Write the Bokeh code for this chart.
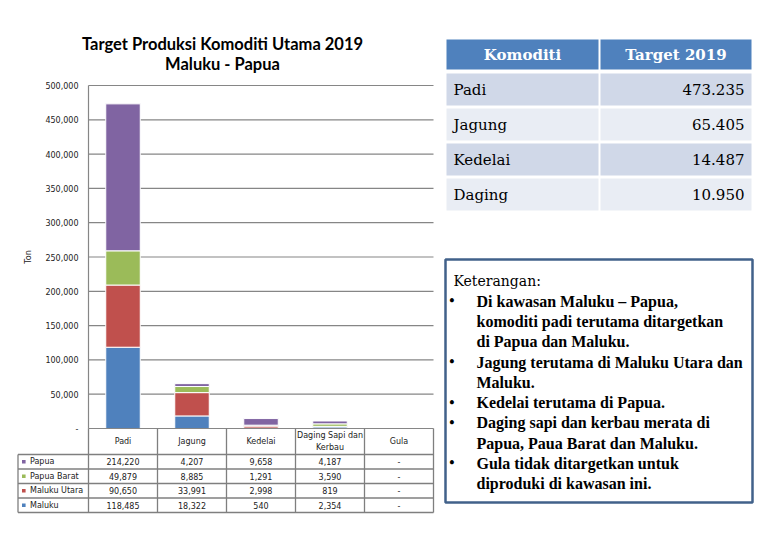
import numpy as np
from bokeh.plotting import figure
from bokeh.models import Range1d, ColumnDataSource
from bokeh.embed import file_html
from bokeh.resources import INLINE
from bokeh.core.properties import value

# ---------------- data ----------------
categories = ["Padi", "Jagung", "Kedelai", "Daging Sapi dan\nKerbau", "Gula"]
regions = ["Maluku", "Maluku Utara", "Papua Barat", "Papua"]   # stacking order bottom -> top
maluku = [118485, 18322, 540, 2354, 0]
maluku_utara = [90650, 33991, 2998, 819, 0]
papua_barat = [49879, 8885, 1291, 3590, 0]
papua = [214220, 4207, 9658, 4187, 0]
region_colors = ["#4F81BD", "#C0504D", "#9BBB59", "#8064A2"]
y_ticks = [0, 50000, 100000, 150000, 200000, 250000, 300000, 350000, 400000, 450000, 500000]
y_label = "Ton"

title_lines = ["Target Produksi Komoditi Utama 2019", "Maluku - Papua"]

komoditi = ["Padi", "Jagung", "Kedelai", "Daging"]
target_2019 = [473235, 65405, 14487, 10950]
table_header = ["Komoditi", "Target 2019"]

keterangan_title = "Keterangan:"
keterangan_items = [
    ["Di kawasan Maluku \u2013 Papua,", "komoditi padi terutama ditargetkan", "di Papua dan Maluku."],
    ["Jagung terutama di Maluku Utara dan", "Maluku."],
    ["Kedelai terutama di Papua."],
    ["Daging sapi dan kerbau merata di", "Papua, Paua Barat dan Maluku."],
    ["Gula tidak ditargetkan untuk", "diproduki di kawasan ini."],
]

series = dict(zip(regions, [maluku, maluku_utara, papua_barat, papua]))

# ---------------- layout constants (pixels) ----------------
W, H = 764, 524
CAT_L, CAT_R = 88, 433        # plot area left / right
Y0_PX, YMAX_PX = 428, 85      # pixel rows of 0 and of the top tick
n = len(categories)
ppu = (CAT_R - CAT_L) / n
y_max = y_ticks[-1]
kpy = y_max / (Y0_PX - YMAX_PX)

def ux(px):   # pixel column -> category units
    return (px - CAT_L) / ppu

SANS = value("DejaVu Sans")
SERIF = value("DejaVu Serif")
GRID = "#868686"
TXT = "#222222"

p = figure(width=W, height=H,
           x_range=Range1d(ux(0), ux(W)),
           y_range=Range1d(-(H - Y0_PX) * kpy, y_max + YMAX_PX * kpy),
           output_backend="svg", toolbar_location=None,
           min_border_left=0, min_border_right=0, min_border_top=0, min_border_bottom=0)
p.extra_x_ranges = {"px": Range1d(0, W)}
p.extra_y_ranges = {"px": Range1d(H, 0)}
p.axis.visible = False
p.grid.visible = False
p.outline_line_color = None

# ---------------- title ----------------
p.text(x=[222, 222], y=[43.5, 63.5], text=title_lines, x_range_name="px", y_range_name="px",
       text_font=value("Lato"), text_font_style="bold", text_font_size="16.5px",
       text_align="center", text_baseline="alphabetic", text_color="#000000")

# ---------------- chart ----------------
xpos = np.arange(n) + 0.5
grid_ticks = [v for v in y_ticks if v > 0]
p.segment(x0=[0] * len(grid_ticks), y0=grid_ticks, x1=[n] * len(grid_ticks), y1=grid_ticks,
          line_color=GRID, line_width=1.2)
src = ColumnDataSource(dict(x=xpos, **{r: series[r] for r in regions}))
p.vbar_stack(regions, x="x", width=0.5, source=src, fill_color=region_colors,
             line_color="white", line_width=1)
p.segment(x0=[0, 0], y0=[0, 0], x1=[0, n], y1=[y_max, 0], line_color=GRID, line_width=1.2)

tick_text = ["{:,}".format(v) if v else "-" for v in y_ticks]
p.text(x=[ux(CAT_L - 10)] * len(y_ticks), y=y_ticks, text=tick_text, text_font=SANS,
       text_font_size="8px", text_align="right", text_baseline="middle", text_color=TXT)
p.text(x=[ux(28)], y=[y_max / 2], text=[y_label], angle=np.pi / 2, text_font=SANS,
       text_font_size="8px", text_align="center", text_baseline="middle", text_color=TXT)

# ---------------- data table under chart ----------------
LINE = "#7F7F7F"
row_edges = [454 + 14.5 * i for i in range(len(regions) + 1)]
leg_x = ux(17.5)
p.segment(x0=list(range(n + 1)), y0=[Y0_PX] * (n + 1), x1=list(range(n + 1)),
          y1=[row_edges[-1]] * (n + 1), y_range_name="px", line_color=LINE, line_width=1.3)
p.segment(x0=[leg_x], y0=[row_edges[0]], x1=[leg_x], y1=[row_edges[-1]], y_range_name="px",
          line_color=LINE, line_width=1.3)
p.segment(x0=[leg_x] * len(row_edges), y0=row_edges, x1=[n] * len(row_edges), y1=row_edges,
          y_range_name="px", line_color=LINE, line_width=1.3)

p.text(x=list(xpos), y=[441] * n, text=categories, y_range_name="px", text_font=SANS,
       text_font_size="8px", text_align="center", text_baseline="middle", text_color=TXT,
       text_line_height=1.3)

table_regions = regions[::-1]
table_colors = region_colors[::-1]
ycs = [(row_edges[i] + row_edges[i + 1]) / 2 for i in range(len(regions))]
tx, ty, tt = [], [], []
for i, r in enumerate(table_regions):
    for j in range(n):
        v = series[r][j]
        tx.append(xpos[j]); ty.append(ycs[i]); tt.append("{:,}".format(v) if v else "-")
p.text(x=tx, y=ty, text=tt, y_range_name="px", text_font=SANS, text_font_size="8px",
       text_align="center", text_baseline="middle", text_color=TXT)
p.rect(x=[ux(23.3)] * len(regions), y=ycs, width=3.6 / ppu, height=3.6, y_range_name="px",
       fill_color=table_colors, line_color=None)
p.text(x=[ux(29.5)] * len(regions), y=ycs, text=table_regions, y_range_name="px", text_font=SANS,
       text_font_size="8px", text_align="left", text_baseline="middle", text_color=TXT)

# ---------------- right side: summary table ----------------
c_left = [446, 600]
c_right = [598, 751]
p.quad(left=c_left, right=c_right, top=[39, 39], bottom=[69, 69], x_range_name="px",
       y_range_name="px", fill_color="#4F81BD", line_color=None)
p.text(x=[522, 675.5], y=[54, 54], text=table_header, x_range_name="px", y_range_name="px",
       text_font=SERIF, text_font_style="bold", text_font_size="15px", text_align="center",
       text_baseline="middle", text_color="#FFFFFF")
m = len(komoditi)
row_tops = [73 + 35 * i for i in range(m)]
row_fill = ["#D0D8E8" if i % 2 == 0 else "#E9EDF4" for i in range(m)]
for c in range(2):
    p.quad(left=[c_left[c]] * m, right=[c_right[c]] * m, top=row_tops,
           bottom=[y + 32 for y in row_tops], x_range_name="px", y_range_name="px",
           fill_color=row_fill, line_color=None)
row_mid = [y + 16 for y in row_tops]
p.text(x=[453] * m, y=row_mid, text=komoditi, x_range_name="px", y_range_name="px",
       text_font=SERIF, text_font_size="15px", text_align="left", text_baseline="middle",
       text_color="#000000")
p.text(x=[744] * m, y=row_mid, text=["{:,}".format(v).replace(",", ".") for v in target_2019],
       x_range_name="px", y_range_name="px", text_font=SERIF, text_font_size="15px",
       text_align="right", text_baseline="middle", text_color="#000000")

# ---------------- notes box ----------------
p.quad(left=[445], right=[752], top=[259], bottom=[502], x_range_name="px", y_range_name="px",
       fill_color=None, line_color="#41618A", line_width=2.5)
LH = 20.25
base0 = 280.5
p.text(x=[453], y=[base0], text=[keterangan_title], x_range_name="px", y_range_name="px",
       text_font=SERIF, text_font_size="14px", text_align="left", text_baseline="alphabetic",
       text_color="#000000")
bx, by, lx, ly, lt = [], [], [], [], []
k = 1
for item in keterangan_items:
    bx.append(451.5); by.append(base0 + LH * k)
    for line in item:
        lx.append(476); ly.append(base0 + LH * k); lt.append(line)
        k += 1
p.text(x=bx, y=by, text=["\u2022"] * len(bx), x_range_name="px", y_range_name="px",
       text_font=SERIF, text_font_size="14px", text_align="center", text_baseline="alphabetic",
       text_color="#000000")
p.text(x=lx, y=ly, text=lt, x_range_name="px", y_range_name="px",
       text_font=value("Liberation Serif"), text_font_size="16px", text_font_style="bold",
       text_align="left", text_baseline="alphabetic", text_color="#000000")

open("out.html", "w").write(file_html(p, INLINE))
